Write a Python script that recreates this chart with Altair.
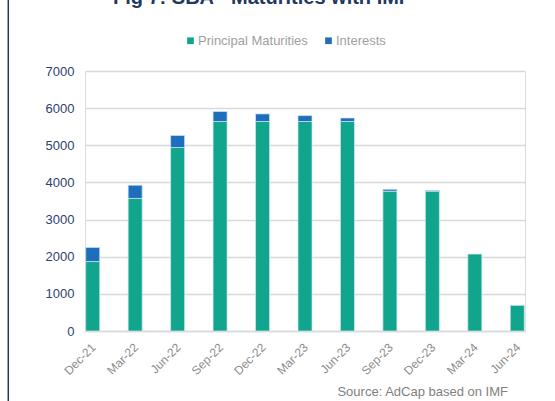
import altair as alt
import pandas as pd

dates = ["Dec-21", "Mar-22", "Jun-22", "Sep-22", "Dec-22", "Mar-23",
         "Jun-23", "Sep-23", "Dec-23", "Mar-24", "Jun-24"]
principal = [1870, 3570, 4940, 5640, 5640, 5640, 5640, 3765, 3760, 2070, 690]
interests = [380, 355, 325, 270, 205, 160, 95, 50, 25, 0, 0]
series = ["Principal Maturities", "Interests"]
colors = ["#11A58E", "#1F6EBE"]
title_text = "Fig 7: SBA - Maturities with IMF"
source_text = "Source: AdCap based on IMF"

rows = []
for d, p, i in zip(dates, principal, interests):
    rows.append({"date": d, "series": series[0], "value": p, "ord": 0})
    rows.append({"date": d, "series": series[1], "value": i, "ord": 1})
df = pd.DataFrame(rows)

W, H = 440, 260

bars = alt.Chart(df).transform_filter(alt.datum.value > 0).mark_bar(
    stroke="#CFEAF0", strokeWidth=0.7
).encode(
    x=alt.X("date:N", sort=dates,
            scale=alt.Scale(paddingInner=0.67, paddingOuter=0.0165),
            axis=alt.Axis(title=None, labelAngle=-45, labelAlign="right",
                          labelBaseline="middle", labelPadding=14, labelOffset=1,
                          labelColor="#8C8C8C", labelFontSize=12, labelFont="Liberation Sans",
                          ticks=False, domain=True, domainColor="#D9D9D9",
                          domainWidth=1.5, grid=False)),
    y=alt.Y("value:Q", stack="zero",
            scale=alt.Scale(domain=[0, 7000], nice=False),
            axis=alt.Axis(title=None, values=[0, 1000, 2000, 3000, 4000, 5000, 6000, 7000],
                          format="d", labelColor="#2F3F6F", labelFontSize=13,
                          labelFont="Liberation Sans", labelPadding=11,
                          ticks=False, domain=False, gridColor="#D9D9D9",
                          gridWidth=1.3)),
    color=alt.Color("series:N", scale=alt.Scale(domain=series, range=colors),
                    legend=alt.Legend(title=None, orient="none", direction="horizontal",
                                      legendX=99, legendY=-37, symbolType="square",
                                      symbolSize=45, symbolStrokeWidth=0,
                                      labelFontSize=13, labelFont="Liberation Sans",
                                      labelColor="#A0A0A0", labelOffset=1,
                                      columnPadding=14, padding=0)),
    order=alt.Order("ord:Q", sort="ascending"),
)

title = alt.Chart(pd.DataFrame({"t": [title_text]})).mark_text(
    font="Liberation Sans", fontSize=20, fontWeight="bold", color="#1F3864",
    align="center", baseline="alphabetic"
).encode(text="t:N", x=alt.value(177), y=alt.value(-67.5))

source = alt.Chart(pd.DataFrame({"t": [source_text]})).mark_text(
    font="Liberation Sans", fontSize=13, color="#7F7F7F",
    align="right", baseline="middle"
).encode(text="t:N", x=alt.value(423), y=alt.value(321))

frame = alt.Chart(pd.DataFrame({"a": [0]})).mark_rule(
    color="#1F3864", strokeWidth=1.5
).encode(x=alt.value(-76.7), y=alt.value(-71), y2=alt.value(H + 70))

chart = alt.layer(bars, title, source, frame).properties(
    width=W, height=H,
    autosize=alt.AutoSizeParams(type="none"),
    padding={"left": 85, "top": 71, "right": 30, "bottom": 70},
).configure_view(stroke=None).configure(background="white")

chart.save("out.html", embed_options={"renderer": "svg", "actions": False})
